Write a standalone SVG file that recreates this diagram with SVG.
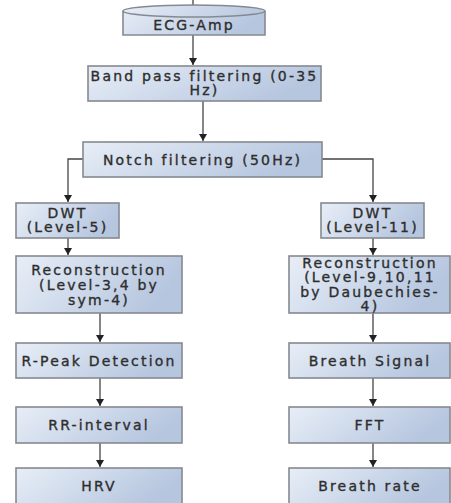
<svg xmlns="http://www.w3.org/2000/svg" width="451" height="503" viewBox="0 0 451 503">
<defs>
<linearGradient id="g" x1="0" y1="0" x2="1" y2="0.3">
<stop offset="0" stop-color="#e8eef7"/>
<stop offset="1" stop-color="#b6c6df"/>
</linearGradient>
<marker id="ah" markerWidth="8" markerHeight="8" refX="7" refY="4" orient="auto" markerUnits="userSpaceOnUse">
<path d="M0,0 L7,4 L0,8 Z" fill="#222"/>
</marker>
</defs>
<style>
.box{fill:url(#g);stroke:#858a90;stroke-width:1.6}
.t{font-family:"DejaVu Sans",sans-serif;font-size:14px;fill:#2e2e2e;stroke:#2e2e2e;stroke-width:0.35;text-anchor:middle;letter-spacing:2.2px}
.c{fill:none;stroke:#444;stroke-width:1.3}
</style>
<rect width="451" height="503" fill="#fff"/>
<g id="connectors">
<line class="c" x1="193" y1="0" x2="193" y2="5"/>
<line class="c" x1="193" y1="35" x2="193" y2="65" marker-end="url(#ah)"/>
<line class="c" x1="203" y1="101" x2="203" y2="141" marker-end="url(#ah)"/>
<polyline class="c" points="83,159 68,159 68,202" marker-end="url(#ah)"/>
<polyline class="c" points="322,159 373,159 373,202" marker-end="url(#ah)"/>
<line class="c" x1="68" y1="238" x2="68" y2="255" marker-end="url(#ah)"/>
<line class="c" x1="373" y1="238" x2="373" y2="255" marker-end="url(#ah)"/>
<line class="c" x1="100" y1="313" x2="100" y2="342" marker-end="url(#ah)"/>
<line class="c" x1="373" y1="313" x2="373" y2="342" marker-end="url(#ah)"/>
<line class="c" x1="100" y1="378" x2="100" y2="406" marker-end="url(#ah)"/>
<line class="c" x1="373" y1="378" x2="373" y2="406" marker-end="url(#ah)"/>
<line class="c" x1="100" y1="443" x2="100" y2="467" marker-end="url(#ah)"/>
<line class="c" x1="373" y1="443" x2="373" y2="467" marker-end="url(#ah)"/>
</g>
<g id="ecg-amp">
<path class="box" d="M123,11 L123,35 L265,35 L265,11 A71,6 0 0 0 123,11 Z"/>
<path d="M123,11 A71,6 0 0 0 265,11" fill="none" stroke="#858a90" stroke-width="1.6"/>
<text class="t" x="194" y="30">ECG-Amp</text>
</g>
<g id="bandpass">
<rect class="box" x="88" y="66" width="233" height="35"/>
<text class="t" x="204.5" y="81">Band pass filtering (0-35</text>
<text class="t" x="204.5" y="95">Hz)</text>
</g>
<g id="notch">
<rect class="box" x="83" y="142" width="239" height="35"/>
<text class="t" x="202.5" y="164.5">Notch filtering (50Hz)</text>
</g>
<g id="dwt-left">
<rect class="box" x="16" y="203" width="103" height="35"/>
<text class="t" x="67.5" y="218">DWT</text>
<text class="t" x="67.5" y="232">(Level-5)</text>
</g>
<g id="dwt-right">
<rect class="box" x="321" y="203" width="103" height="35"/>
<text class="t" x="372.5" y="218">DWT</text>
<text class="t" x="372.5" y="232">(Level-11)</text>
</g>
<g id="recon-left">
<rect class="box" x="16" y="256" width="166" height="57"/>
<text class="t" x="99" y="275">Reconstruction</text>
<text class="t" x="99" y="290">(Level-3,4 by</text>
<text class="t" x="99" y="305">sym-4)</text>
</g>
<g id="recon-right">
<rect class="box" x="289" y="256" width="161" height="57"/>
<text class="t" x="370" y="267.5">Reconstruction</text>
<text class="t" x="370" y="282">(Level-9,10,11</text>
<text class="t" x="370" y="296.5">by Daubechies-</text>
<text class="t" x="370" y="311">4)</text>
</g>
<g id="rpeak">
<rect class="box" x="16" y="343" width="166" height="35"/>
<text class="t" x="99" y="365.5">R-Peak Detection</text>
</g>
<g id="breath-signal">
<rect class="box" x="289" y="343" width="161" height="35"/>
<text class="t" x="370" y="365.5">Breath Signal</text>
</g>
<g id="rr-interval">
<rect class="box" x="16" y="407" width="166" height="36"/>
<text class="t" x="99" y="430">RR-interval</text>
</g>
<g id="fft">
<rect class="box" x="289" y="407" width="161" height="36"/>
<text class="t" x="370" y="430">FFT</text>
</g>
<g id="hrv">
<rect class="box" x="16" y="468" width="166" height="36"/>
<text class="t" x="99" y="490.5">HRV</text>
</g>
<g id="breath-rate">
<rect class="box" x="289" y="468" width="161" height="36"/>
<text class="t" x="370" y="490.5">Breath rate</text>
</g>
</svg>
